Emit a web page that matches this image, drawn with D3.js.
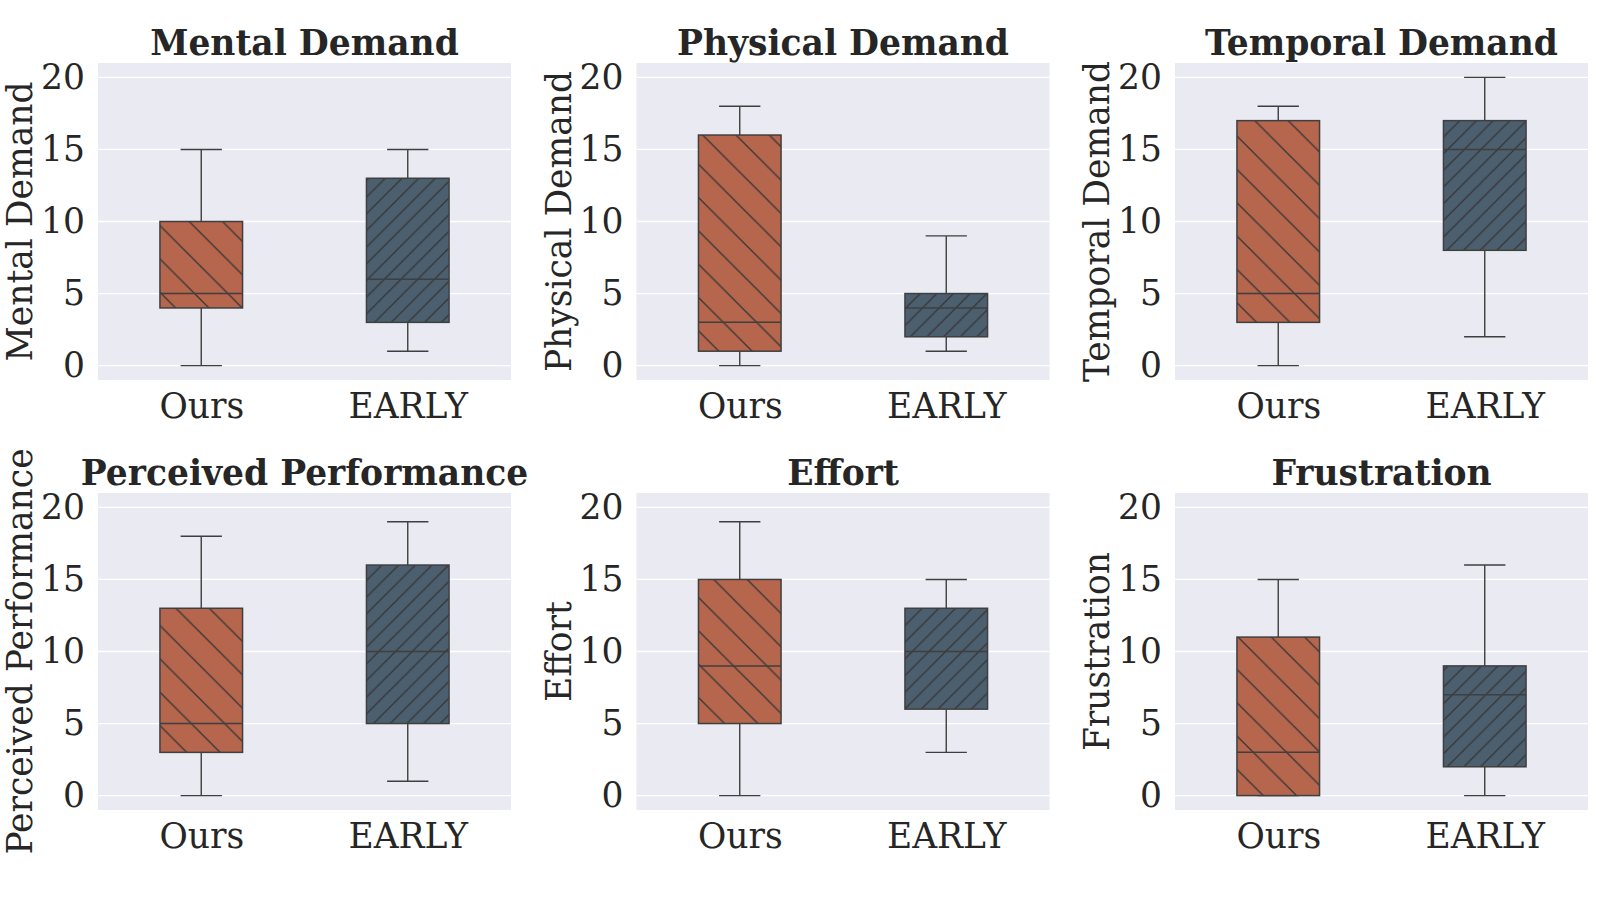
<!DOCTYPE html>
<html>
<head>
<meta charset="utf-8">
<script src="https://cdn.jsdelivr.net/npm/d3@7"></script>
<style>
body { margin: 0; background: #ffffff; }
svg { display: block; }
</style>
</head>
<body>
<svg class="chart" width="1620" height="900"></svg>
<script>
// NASA-TLX scores, one box per method and per metric: [min, q1, median, q3, max]
var metrics = ["Mental Demand", "Physical Demand", "Temporal Demand",
	"Perceived Performance", "Effort", "Frustration"];
var methods = ["Ours", "EARLY"];
var oursStats = [
	[0, 4, 5, 10, 15],
	[0, 1, 3, 16, 18],
	[0, 3, 5, 17, 18],
	[0, 3, 5, 13, 18],
	[0, 5, 9, 15, 19],
	[0, 0, 3, 11, 15]
];
var earlyStats = [
	[1, 3, 6, 13, 15],
	[1, 2, 4, 5, 9],
	[2, 8, 15, 17, 20],
	[1, 5, 10, 16, 19],
	[3, 6, 10, 13, 15],
	[0, 2, 7, 9, 16]
];
var yTicks = [0, 5, 10, 15, 20];

var textcolor = "#262626",
	linecolor = "#3f3f3f",
	hatchcolor = "#353535",
	bgcolor = "#eaeaf2",
	boxcolors = ["#b5664c", "#4c5f6f"],
	hatchIds = ["hatchBack", "hatchFwd"],
	font = "'DejaVu Serif', serif",
	fsize = "34.5px";

var svg = d3.select(".chart"),
	left0 = 98,
	top0 = 63,
	colStep = 538.5,
	rowStep = 430,
	pw = 413,
	ph = 317;

// hatches sit on the page grid, as matplotlib draws them
var defs = svg.append("defs");
var s1 = 33.33, s2 = 16.67;
defs.append("pattern")
	.attr("id", "hatchBack")
	.attr("patternUnits", "userSpaceOnUse")
	.attr("x", 1)
	.attr("width", s1)
	.attr("height", s1)
	.append("path")
	.attr("d", "M-1,-1L" + (s1 + 1) + "," + (s1 + 1) +
		"M" + (s1 - 1) + ",-1L" + (s1 + 1) + ",1" +
		"M-1," + (s1 - 1) + "L1," + (s1 + 1))
	.attr("stroke", hatchcolor)
	.attr("stroke-width", 1.3);
defs.append("pattern")
	.attr("id", "hatchFwd")
	.attr("patternUnits", "userSpaceOnUse")
	.attr("x", 13.5)
	.attr("width", s2)
	.attr("height", s2)
	.append("path")
	.attr("d", "M-1," + (s2 + 1) + "L" + (s2 + 1) + ",-1" +
		"M-1,1L1,-1" +
		"M" + (s2 - 1) + "," + (s2 + 1) + "L" + (s2 + 1) + "," + (s2 - 1))
	.attr("stroke", hatchcolor)
	.attr("stroke-width", 1.3);

metrics.forEach(function(name, i) {
	var col = i % 3,
		row = Math.floor(i / 3),
		gx = left0 + col * colStep,
		gy = top0 + row * rowStep;
	var g = svg.append("g").attr("transform", "translate(" + gx + "," + gy + ")");

	var x = d3.scalePoint()
		.domain(methods)
		.range([0, pw])
		.padding(0.5);
	var y = d3.scaleLinear()
		.domain([-1, 21])
		.range([ph, 0]);
	var boxW = x.step() * 0.4;

	g.append("rect")
		.attr("width", pw)
		.attr("height", ph)
		.attr("fill", bgcolor);

	g.selectAll(".grid")
		.data(yTicks)
		.enter().append("line")
		.attr("x1", 0)
		.attr("x2", pw)
		.attr("y1", function(d) { return y(d); })
		.attr("y2", function(d) { return y(d); })
		.attr("stroke", "#ffffff")
		.attr("stroke-width", 1.3);

	var stats = [oursStats[i], earlyStats[i]];
	var boxes = g.selectAll(".box")
		.data(stats)
		.enter().append("g")
		.attr("transform", function(d, j) { return "translate(" + x(methods[j]) + ",0)"; });

	// whiskers and caps
	boxes.append("line")
		.attr("y1", function(d) { return y(d[0]); })
		.attr("y2", function(d) { return y(d[1]); })
		.attr("stroke", linecolor)
		.attr("stroke-width", 1.4);
	boxes.append("line")
		.attr("y1", function(d) { return y(d[3]); })
		.attr("y2", function(d) { return y(d[4]); })
		.attr("stroke", linecolor)
		.attr("stroke-width", 1.4);
	boxes.selectAll(".cap")
		.data(function(d) { return [d[0], d[4]]; })
		.enter().append("line")
		.attr("x1", -boxW / 4)
		.attr("x2", boxW / 4)
		.attr("y1", function(v) { return y(v); })
		.attr("y2", function(v) { return y(v); })
		.attr("stroke", linecolor)
		.attr("stroke-width", 1.4);

	// box body: fill, hatch, outline, median
	boxes.append("rect")
		.attr("x", -boxW / 2)
		.attr("width", boxW)
		.attr("y", function(d) { return y(d[3]); })
		.attr("height", function(d) { return y(d[1]) - y(d[3]); })
		.attr("fill", function(d, j) { return boxcolors[j]; });
	boxes.each(function(d, j) {
		var cx = gx + x(methods[j]);
		// hatch rect is drawn in page space so the pattern keeps one phase
		svg.append("rect")
			.attr("x", cx - boxW / 2)
			.attr("width", boxW)
			.attr("y", gy + y(d[3]))
			.attr("height", y(d[1]) - y(d[3]))
			.attr("fill", "url(#" + hatchIds[j] + ")");
		svg.append("rect")
			.attr("x", cx - boxW / 2)
			.attr("width", boxW)
			.attr("y", gy + y(d[3]))
			.attr("height", y(d[1]) - y(d[3]))
			.attr("fill", "none")
			.attr("stroke", linecolor)
			.attr("stroke-width", 1.5);
		svg.append("line")
			.attr("x1", cx - boxW / 2)
			.attr("x2", cx + boxW / 2)
			.attr("y1", gy + y(d[2]))
			.attr("y2", gy + y(d[2]))
			.attr("stroke", linecolor)
			.attr("stroke-width", 1.5);
	});

	var left = g.append("g")
		.call(d3.axisLeft(y).tickValues(yTicks).tickSize(0).tickPadding(13));
	left.select(".domain").remove();
	left.selectAll("text")
		.style("fill", textcolor)
		.style("font-family", font)
		.style("font-size", fsize);

	var bot = g.append("g")
		.attr("transform", "translate(0," + ph + ")")
		.call(d3.axisBottom(x).tickSize(0).tickPadding(14));
	bot.select(".domain").remove();
	bot.selectAll("text")
		.style("fill", textcolor)
		.style("font-family", font)
		.style("font-size", fsize);

	g.append("text")
		.attr("x", pw / 2)
		.attr("y", -8.5)
		.attr("text-anchor", "middle")
		.style("fill", textcolor)
		.style("font-family", font)
		.style("font-weight", "bold")
		.style("font-size", fsize)
		.text(name);

	g.append("text")
		.attr("transform", "translate(-66," + (ph / 2) + ") rotate(-90)")
		.attr("text-anchor", "middle")
		.style("fill", textcolor)
		.style("font-family", font)
		.style("font-size", fsize)
		.text(name);
});
</script>
</body>
</html>
